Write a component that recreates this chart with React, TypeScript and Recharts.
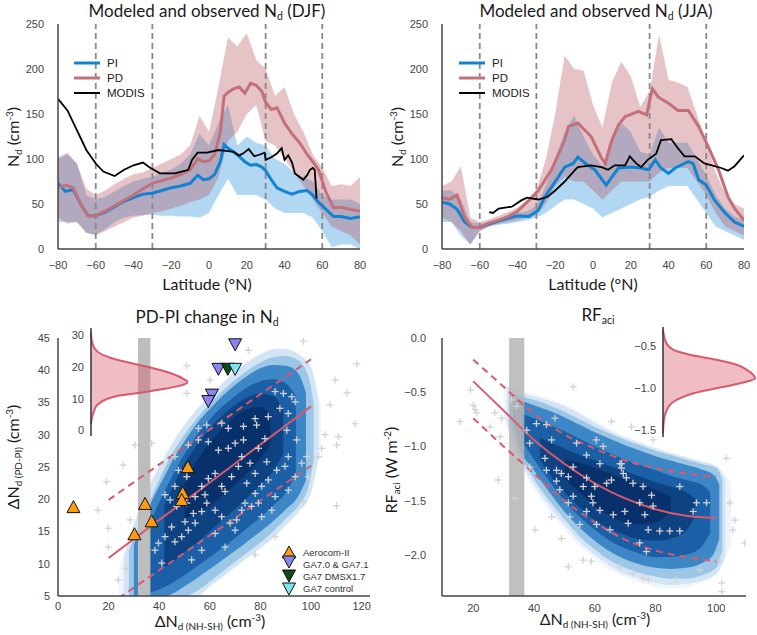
import React from "react";
import {
  ComposedChart,
  Line,
  Area,
  Scatter,
  XAxis,
  YAxis,
  ReferenceLine,
  ReferenceArea,
} from "recharts";

const TICK_FONT = "'Liberation Sans', Arial, sans-serif";
const LABEL_FONT = "Lato, 'Open Sans', sans-serif";
const AXIS = { stroke: "#444", strokeWidth: 1.5 };
const TICK = { fill: "#444", fontSize: 11, fontFamily: TICK_FONT };
const PI_COLOR = "#1283d3";
const PD_COLOR = "#c4707a";
const FIT_COLOR = "#d9596c";

// ---------- top panels: zonal mean Nd ----------
const LAT_TICKS = [-80, -60, -40, -20, 0, 20, 40, 60, 80];
const ND_TICKS = [0, 50, 100, 150, 200, 250];
const REGION_EDGES = [-60, -30, 30, 60];

const djfLat = [-80, -76, -72, -68, -64, -60, -55, -50, -45, -40, -35, -30, -25, -20, -15, -10, -6, -3, 0, 3, 6, 8, 10, 13, 16, 19, 22, 25, 28, 30, 33, 36, 40, 44, 48, 52, 55, 58, 62, 66, 70, 75, 80];
const djfPI = [73, 64, 66, 50, 37, 37, 41, 47, 53, 57, 61, 62, 65, 68, 70, 73, 82, 77, 78, 83, 97, 116, 112, 108, 103, 97, 93, 94, 91, 87, 77, 68, 64, 61, 64, 65, 60, 52, 44, 36, 36, 34, 36];
const djfPD = [68, 71, 68, 50, 37, 37, 42, 48, 54, 60, 67, 73, 76, 79, 83, 88, 100, 97, 98, 105, 130, 170, 174, 178, 180, 173, 184, 182, 175, 163, 155, 157, 140, 128, 118, 105, 97, 88, 63, 46, 46, 44, 42];
const djfModisLat = [-80, -75, -70, -65, -60, -56, -50, -45, -40, -35, -31, -26, -18, -11, -9, -6, -1, 5, 9, 13, 16, 18, 21, 24, 27, 29.5, 30, 33, 36, 38.5, 40, 42, 44, 45.5, 48, 50, 52, 53.5, 55, 56, 57];
const djfModis = [167, 154, 132, 110, 95, 86, 81, 88, 93, 96, 90, 84, 84, 88, 99, 107, 107, 110, 109, 108, 104, 106, 111, 103, 105, 107, 99, 102, 106, 112, 99, 104, 96, 84, 80, 77, 82, 88, 90, 88, 56];

const bandLat = [-80, -75, -70, -65, -60, -55, -50, -45, -40, -35, -30, -25, -20, -15, -10, -5, 0, 5, 10, 15, 20, 25, 30, 35, 40, 45, 50, 55, 60, 65, 70, 75, 80];
const djfPDHi = [102, 107, 95, 67, 60, 65, 72, 78, 83, 85, 90, 95, 100, 105, 115, 148, 130, 180, 235, 225, 240, 210, 200, 170, 180, 150, 130, 105, 90, 70, 72, 70, 80];
const djfPDLo = [35, 28, 30, 18, 15, 20, 25, 30, 35, 37, 40, 42, 45, 48, 52, 55, 60, 80, 120, 130, 150, 160, 120, 115, 100, 85, 70, 55, 40, 25, 20, 15, 5];
const djfPIHi = [100, 105, 95, 60, 55, 58, 64, 70, 75, 78, 80, 85, 88, 95, 105, 128, 115, 140, 160, 115, 125, 118, 115, 100, 95, 85, 80, 75, 60, 55, 55, 55, 50];
const djfPILo = [30, 30, 30, 18, 16, 22, 30, 35, 37, 38, 38, 37, 37, 36, 36, 35, 40, 60, 78, 60, 60, 60, 55, 45, 40, 40, 40, 35, 20, 2, 5, 5, 0];

const jjaPILat = [-80, -76, -72, -68, -64, -60, -55, -50, -45, -40, -34, -29, -25.5, -20, -15, -10.5, -8, -4, 1, 4.5, 7, 10, 13.5, 20, 25.5, 29.5, 33, 36, 40, 43.5, 50.5, 53, 56, 60, 64.5, 70, 75, 80];
const jjaPI = [52, 50, 44, 30, 24, 24, 28, 31, 34, 37, 36, 43, 58, 75, 91, 95, 102, 95, 88, 78, 71, 80, 90, 91, 90, 88, 99, 90, 84, 90, 97, 95, 77, 71, 54, 40, 30, 25];
const jjaPDLat = [-80, -76, -72, -68, -64, -60, -55, -50, -45, -40, -34, -29, -22, -15, -13, -8, -1, 4.5, 6.5, 10, 13.5, 17, 24, 28.5, 30, 31.5, 34.5, 36, 40, 45, 50.5, 56, 61, 66.5, 71.5, 75, 80];
const jjaPD = [57, 55, 60, 35, 24, 24, 29, 32, 36, 42, 54, 65, 88, 121, 136, 140, 125, 101, 95, 121, 138, 147, 153, 149, 165, 178, 169, 167, 162, 154, 154, 136, 114, 88, 58, 45, 32];
const jjaModisLat = [-55, -53, -50, -43, -38, -35, -29, -24, -20, -15, -9.5, -8, -1, 4.5, 8, 11.5, 17, 19.5, 23, 25.5, 29, 33.5, 36, 41.5, 45, 48.5, 54, 59, 63, 68, 71.5, 75, 80];
const jjaModis = [41, 40, 45, 47, 54, 57, 55, 58, 65, 75, 88, 91, 93, 91, 88, 93, 93, 103, 95, 91, 99, 106, 121, 122, 112, 103, 103, 95, 93, 90, 87, 92, 104];
const jjaPDHi = [70, 75, 92, 35, 30, 33, 37, 41, 46, 53, 65, 100, 150, 215, 200, 198, 160, 135, 185, 208, 192, 158, 175, 238, 188, 185, 180, 150, 118, 85, 62, 50, 45];
const jjaPDLo = [35, 30, 20, 5, 20, 25, 28, 30, 32, 35, 38, 50, 70, 80, 75, 75, 65, 55, 65, 75, 75, 75, 75, 85, 90, 90, 90, 75, 60, 40, 25, 20, 15];
const jjaPIHi = [65, 65, 55, 30, 28, 30, 33, 36, 40, 42, 48, 70, 100, 130, 148, 125, 105, 92, 125, 140, 130, 108, 105, 135, 118, 118, 118, 100, 82, 60, 45, 36, 32];
const jjaPILo = [30, 30, 15, 5, 20, 25, 27, 28, 30, 32, 35, 40, 48, 55, 55, 50, 45, 35, 40, 45, 50, 55, 58, 65, 70, 70, 70, 55, 40, 25, 20, 15, 10];

// ---------- bottom-left: PD-PI change in Nd ----------
const DX_TICKS = [0, 20, 40, 60, 80, 100, 120];
const DY_TICKS = [5, 10, 15, 20, 25, 30, 35, 40, 45];
const fitX = [20, 40, 60, 80, 100];
const dFit = [10.9, 16.8, 22.6, 28.5, 34.4];
const dUpper = [19.9, 25.4, 30.8, 36.3, 41.7];
const dLower = [3.6, 9.0, 14.4, 19.8, 25.2];

// density of the emulator sample, read as column extents for nested shading levels
const dCloud = [
  { fill: "#eef5fb", x: [24, 28, 33, 38, 43, 48, 53, 58, 63, 68, 73, 78, 83, 88, 93, 98, 102, 104], lo: [5, 5, 5, 5, 5, 5, 5, 5.8, 7.3, 8.8, 10.3, 11.8, 13.3, 15.2, 17.2, 20, 24, 28], hi: [9, 14, 19.5, 24, 27.5, 30.5, 33, 35.3, 37.3, 39.2, 40.8, 42, 43, 43.5, 43, 41.5, 38, 34] },
  { fill: "#d3e4f4", x: [26, 30, 35, 40, 45, 50, 55, 60, 65, 70, 75, 80, 85, 90, 95, 100, 103], lo: [5, 5, 5, 5, 5, 5, 5, 6.5, 8, 9.5, 11, 12.5, 14, 16, 18, 21, 27], hi: [11, 16, 21, 25, 28.5, 31.5, 34, 36, 38, 39.8, 41.3, 42.5, 43.2, 43.3, 42.5, 40.5, 35] },
  { fill: "#9cc6e6", x: [28, 32, 36, 40, 45, 50, 55, 60, 65, 70, 75, 80, 85, 90, 95, 99, 101], lo: [5, 5, 5, 5, 5, 5, 5.8, 7.2, 8.8, 10.3, 11.8, 13.3, 15, 17, 19, 22, 26], hi: [12, 16, 19.5, 23, 27, 30, 32.6, 34.8, 36.8, 38.5, 40, 41.2, 42, 42.2, 41.5, 39, 35] },
  { fill: "#3d87c7", x: [30, 34, 38, 42, 46, 50, 55, 60, 65, 70, 75, 80, 85, 90, 95, 98], lo: [5, 5, 5, 5, 5.5, 6.5, 7.8, 9.2, 10.6, 12, 13.5, 15, 16.6, 18.4, 20.5, 23], hi: [13, 17, 20.5, 23.5, 26.5, 29, 31.8, 34, 36, 37.7, 39.2, 40.3, 40.8, 40.7, 39.5, 36.5] },
  { fill: "#1b60a7", x: [36, 40, 45, 50, 55, 60, 65, 70, 75, 80, 85, 90, 94], lo: [5.5, 6, 7, 8.2, 9.6, 11, 12.5, 14, 15.6, 17.2, 19, 21, 24], hi: [16, 19.5, 23.5, 27, 30, 32.4, 34.4, 36, 37.4, 38.3, 38.6, 38, 36] },
  { fill: "#0d4283", x: [42, 46, 50, 55, 60, 65, 70, 75, 80, 85, 89], lo: [9.5, 10.5, 11.8, 13.3, 15, 16.8, 18.5, 20.3, 22.2, 24.3, 27], hi: [19, 22.5, 25.5, 28.5, 31, 33, 34.6, 35.8, 36.4, 36, 34] },
  { fill: "#08306b", x: [50, 55, 60, 65, 70, 75, 80, 84], lo: [17, 17.8, 19, 20.6, 22.3, 24.2, 26.3, 28.5], hi: [22.5, 26, 28.8, 31, 32.8, 34, 34.3, 33] },
];

const dCrossX = [97, 118.1, 109.5, 114.2, 107.5, 117.4, 105.5, 110.8, 104.2, 110.1, 102.9, 98.9, 97, 110.1, 77.9, 50.9, 50.9, 60.1, 75.2, 30.4, 25.8, 19.2, 15.7, 19.9, 19.9, 27.1, 23.8, 28.5, 37,
  55.5, 58.8, 64.7, 67.3, 73.3, 77.9, 78.5, 83.1, 85.8, 89.1, 92.4, 87.7, 91, 93.7, 90.4, 94.3, 81.8, 79.2, 73.3, 70, 67.3, 63.4, 59.4, 55.5, 51.5, 46.2, 47.6, 50.9, 46.2, 42.3, 44.3, 46.9, 50.9, 54.2, 56.8, 59.4, 62.1, 64.7, 66, 68.6, 71.3, 72.6, 75.9, 77.9, 74.6, 77.9, 80.5, 83.1, 86.4, 89.7, 91, 82.5,
  79.2, 73.9, 70.6, 68, 64.7, 62.1, 58.8, 58.1, 56.8, 54.2, 51.5, 48.9, 46.2, 42.3, 39.7, 38.3, 41, 44.9, 50.2, 53.5, 62.1, 66, 56.8, 52.8, 70, 72.6, 76.5, 80.5, 84.5, 85.8, 91, 93.7, 96.3, 98.3, 85.8];
const dCrossY = [44.5, 41, 38.5, 36.5, 34.6, 31.7, 30, 29.7, 27.9, 28.4, 26.6, 23.5, 19.6, 19, 11.4, 40.7, 36.4, 38.5, 43.1, 28.4, 25.3, 22.7, 18.3, 15.5, 12.6, 9.3, 7.5, 16.8, 28.7,
  31, 31.5, 31.8, 31, 31.3, 32.5, 31.5, 32.8, 36.7, 36.4, 35.9, 34.1, 33.3, 35.1, 30.7, 29.2, 29.4, 27.9, 29.2, 28.7, 27.9, 27.6, 28.9, 29.2, 28.4, 26.6, 24.5, 23.5, 22, 20.7, 19.9, 18.9, 19.4, 20.4, 22, 23.2, 24, 22, 21.2, 23.5, 25.1, 26.6, 25.6, 24, 22.5, 20.9, 22, 23, 24.5, 25.1, 26.6, 25.8,
  19.4, 19.4, 16.8, 16.3, 17.3, 18.3, 19.4, 20.7, 18.1, 16.3, 15.2, 14.2, 13.4, 14.2, 13.2, 12.1, 10.1, 15.7, 16.5, 17.8, 14.7, 12.6, 12.1, 10.6, 15.2, 18.3, 18.9, 17.3, 18.3, 20.4, 21.4, 23.5, 25.6, 26.6, 14.2];

const aerocomX = [6.1, 34.4, 37, 30.2, 51.3, 49.3, 48.9];
const aerocomY = [18.7, 19.2, 16.5, 14.5, 24.9, 20.9, 19.8];
const ga7X = [70, 63.4, 60.8, 59.4];
const ga7Y = [44.1, 40.3, 36.3, 35.3];
const dmsX = [67.1];
const dmsY = [40.3];
const ctrlX = [70];
const ctrlY = [40.3];

const dKdeV = [2, 4, 6, 8, 10, 11, 12, 13, 14, 15.3, 16, 18, 19.5, 21, 23, 25, 28, 31];
const dKdeD = [0, 0.01, 0.03, 0.063, 0.17, 0.29, 0.52, 0.73, 0.9, 1, 0.97, 0.83, 0.66, 0.45, 0.2, 0.063, 0.01, 0];

// ---------- bottom-right: RFaci ----------
const RX_TICKS = [20, 40, 60, 80, 100];
const RY_TICKS = [0, -0.5, -1, -1.5, -2];
const rfX = [20, 30, 40, 50, 60, 70, 80, 90, 100];
const rFit = [-0.4, -0.67, -0.94, -1.16, -1.34, -1.48, -1.58, -1.64, -1.66];
const rUpper = [-0.2, -0.45, -0.7, -0.89, -1.02, -1.13, -1.2, -1.25, -1.28];
const rLower = [-0.74, -1.0, -1.25, -1.5, -1.7, -1.86, -1.96, -2.02, -2.06];

const rCloud = [
  { fill: "#eef5fb", x: [30, 33, 38, 43, 48, 53, 58, 63, 68, 73, 78, 83, 88, 93, 98, 102, 105], lo: [-0.72, -0.98, -1.3, -1.52, -1.7, -1.86, -1.99, -2.1, -2.18, -2.24, -2.28, -2.31, -2.31, -2.28, -2.22, -2.1, -1.9], hi: [-0.42, -0.46, -0.5, -0.54, -0.59, -0.65, -0.73, -0.81, -0.88, -0.94, -0.99, -1.04, -1.08, -1.12, -1.16, -1.22, -1.35] },
  { fill: "#d3e4f4", x: [31, 35, 40, 45, 50, 55, 60, 65, 70, 75, 80, 85, 90, 95, 100, 103], lo: [-0.8, -1.1, -1.35, -1.55, -1.72, -1.88, -2.0, -2.1, -2.18, -2.22, -2.26, -2.28, -2.27, -2.24, -2.18, -2.0], hi: [-0.45, -0.5, -0.54, -0.58, -0.63, -0.7, -0.78, -0.86, -0.92, -0.97, -1.02, -1.06, -1.1, -1.14, -1.18, -1.3] },
  { fill: "#9cc6e6", x: [32, 35, 40, 45, 50, 55, 60, 65, 70, 75, 80, 85, 90, 95, 100, 102], lo: [-0.78, -1.05, -1.3, -1.5, -1.67, -1.83, -1.95, -2.05, -2.12, -2.17, -2.2, -2.22, -2.22, -2.19, -2.12, -1.95], hi: [-0.5, -0.53, -0.57, -0.62, -0.68, -0.75, -0.82, -0.88, -0.94, -0.99, -1.04, -1.08, -1.12, -1.16, -1.2, -1.3] },
  { fill: "#3d87c7", x: [33, 35, 40, 45, 50, 55, 60, 65, 70, 75, 80, 85, 90, 95, 99, 101], lo: [-0.75, -0.98, -1.22, -1.42, -1.6, -1.75, -1.87, -1.97, -2.04, -2.09, -2.12, -2.13, -2.12, -2.08, -2.0, -1.85], hi: [-0.55, -0.57, -0.62, -0.67, -0.73, -0.8, -0.87, -0.93, -0.99, -1.04, -1.09, -1.13, -1.17, -1.21, -1.26, -1.35] },
  { fill: "#1b60a7", x: [36, 40, 45, 50, 55, 60, 65, 70, 75, 80, 85, 90, 95, 98], lo: [-0.95, -1.12, -1.32, -1.5, -1.65, -1.77, -1.87, -1.94, -1.99, -2.02, -2.02, -2.0, -1.93, -1.8], hi: [-0.7, -0.74, -0.8, -0.86, -0.93, -1.0, -1.06, -1.12, -1.17, -1.22, -1.27, -1.31, -1.35, -1.42] },
  { fill: "#0d4283", x: [42, 45, 50, 55, 60, 65, 70, 75, 80, 85, 90, 93], lo: [-1.12, -1.25, -1.42, -1.56, -1.68, -1.76, -1.82, -1.86, -1.87, -1.85, -1.78, -1.65], hi: [-0.92, -0.96, -1.02, -1.08, -1.13, -1.18, -1.23, -1.28, -1.33, -1.37, -1.42, -1.48] },
  { fill: "#08306b", x: [50, 55, 60, 65, 70, 75, 80, 85], lo: [-1.3, -1.42, -1.55, -1.64, -1.7, -1.72, -1.7, -1.6], hi: [-1.12, -1.15, -1.2, -1.25, -1.3, -1.35, -1.4, -1.47] },
];

const rCrossX = [15.6, 19.1, 20, 20.6, 21.1, 25.5, 27.1, 28.2, 28.8, 29.4, 52.9, 65.5, 72.1, 79.2, 103.3, 104.4, 106.1, 105.5, 109.4, 101.2, 101.8, 101.8, 40.3, 49, 51.3, 56.2, 58.9, 68.3, 72.6, 75.9, 77.6, 86.9, 94.6, 33.7,
  32.6, 34.3, 37.6, 38.6, 38.6, 40.8, 44.1, 45.8, 46.9, 43.6, 44.1, 47.4, 49, 47.4, 51.3, 52.9, 54, 57.3, 60.5, 61.7, 62.8, 68.3, 69.4, 65.5, 60, 58.9, 59.4, 56.2, 52.9, 51.3, 48.5, 45.8, 51.8, 55.1, 57.3, 61.7, 66.1, 69.9, 71, 74.8, 78.7, 79.2, 75.9, 72.6, 88, 92.4, 93.5, 96.8, 84.7, 81.4, 77.6, 74.8, 65, 60.6, 77, 70.4, 68.8, 63.9, 57.3, 76.5, 88, 68.8];
const rCrossY = [-0.77, -0.48, -0.62, -0.66, -0.69, -0.82, -0.69, -1.31, -0.91, -0.74, -0.45, -0.77, -0.82, -0.94, -1.11, -1.52, -1.68, -1.77, -1.89, -2.05, -2.26, -2.34, -1.77, -1.85, -2.11, -2.05, -2.06, -2.11, -2.17, -2.22, -2.23, -2.22, -2.14, -1.48,
  -0.57, -0.63, -0.85, -0.97, -1.19, -0.79, -0.8, -0.94, -0.74, -1.11, -1.22, -1.22, -1.25, -1.32, -1.28, -1.19, -0.97, -1.08, -0.94, -1.16, -1.0, -1.16, -1.25, -1.31, -1.37, -1.46, -1.52, -1.37, -1.46, -1.52, -1.4, -1.65, -1.65, -1.72, -1.6, -1.59, -1.63, -1.6, -1.71, -1.52, -1.45, -1.55, -1.37, -1.34, -1.37, -1.6, -1.52, -1.52, -1.78, -1.78, -1.77, -1.89, -1.77, -1.72, -1.97, -1.29, -1.2, -1.34, -1.29, -1.63, -1.78, -1.16];

const rKdeV = [-0.3, -0.34, -0.46, -0.54, -0.6, -0.66, -0.72, -0.78, -0.84, -0.88, -0.94, -1.0, -1.06, -1.12, -1.18, -1.26, -1.38, -1.54];
const rKdeD = [0, 0.005, 0.036, 0.11, 0.29, 0.58, 0.8, 0.91, 0.98, 1.0, 0.84, 0.58, 0.33, 0.18, 0.09, 0.04, 0.01, 0];

// ---------- helpers ----------
const pts = (xs: number[], ys: number[]) => xs.map((x, i) => ({ x, y: ys[i] }));
const band = (xs: number[], lo: number[], hi: number[]) => xs.map((x, i) => ({ x, lo: lo[i], hi: hi[i] }));
const kde = (vs: number[], ds: number[]) => vs.map((v, i) => ({ v, d: ds[i] }));
const minus = (v: number) => String(v).replace("-", "\u2212");
const minus1 = (v: number) => v.toFixed(1).replace("-", "\u2212");
const range = (d: any) => [d.lo, d.hi];

const Plus = (p: any) => {
  const { cx, cy } = p;
  if (cx == null || cy == null) return <g />;
  return (
    <g stroke="#d2d2d2" strokeWidth={1.3}>
      <line x1={cx - 3.5} y1={cy} x2={cx + 3.5} y2={cy} />
      <line x1={cx} y1={cy - 3.5} x2={cx} y2={cy + 3.5} />
    </g>
  );
};

const triPoints = (cx: number, cy: number, up: boolean) =>
  up
    ? `${cx},${cy - 7} ${cx - 6.5},${cy + 5} ${cx + 6.5},${cy + 5}`
    : `${cx},${cy + 7} ${cx - 6.5},${cy - 5} ${cx + 6.5},${cy - 5}`;

const triangle = (fill: string, up: boolean) => (p: any) => {
  const { cx, cy } = p;
  if (cx == null || cy == null) return <g />;
  return <polygon points={triPoints(cx, cy, up)} fill={fill} stroke="#111" strokeWidth={1} />;
};

const Label = ({ x, y, size = 16, rotate = false, children }: any) => (
  <div
    style={{
      position: "absolute",
      left: x,
      top: y,
      transform: `translate(-50%, -50%)${rotate ? " rotate(-90deg)" : ""}`,
      fontFamily: LABEL_FONT,
      fontSize: size,
      color: "#1a1a1a",
      whiteSpace: "nowrap",
      lineHeight: 1,
    }}
  >
    {children}
  </div>
);

const Sub = ({ children }: any) => <sub style={{ fontSize: "0.62em", verticalAlign: "-0.3em" }}>{children}</sub>;
const Sup = ({ children }: any) => <sup style={{ fontSize: "0.62em", verticalAlign: "0.55em" }}>{children}</sup>;

const TopLegend = ({ x, y }: any) => (
  <div style={{ position: "absolute", left: x, top: y, fontFamily: TICK_FONT, fontSize: 11.5, color: "#222" }}>
    {[
      ["PI", PI_COLOR, 3],
      ["PD", PD_COLOR, 3],
      ["MODIS", "#000", 2],
    ].map(([name, color, w]: any) => (
      <div key={name} style={{ display: "flex", alignItems: "center", height: 15 }}>
        <svg width={26} height={8} style={{ marginRight: 7 }}>
          <line x1={0} y1={4} x2={26} y2={4} stroke={color} strokeWidth={w} />
        </svg>
        {name}
      </div>
    ))}
  </div>
);

function ZonalPanel({ left, pi, pd, modis, piBand, pdBand }: any) {
  return (
    <div style={{ position: "absolute", left, top: 0 }}>
      <ComposedChart width={372} height={290} margin={{ top: 24, right: 12, bottom: 11, left: 0 }}>
        <XAxis
          type="number"
          dataKey="x"
          domain={[-80, 80]}
          ticks={LAT_TICKS}
          tickFormatter={minus}
          interval={0}
          allowDataOverflow
          height={30}
          axisLine={AXIS}
          tickLine={false}
          tickSize={0}
          tickMargin={12}
          tick={TICK}
        />
        <YAxis
          type="number"
          dataKey="y"
          domain={[0, 250]}
          ticks={ND_TICKS}
          interval={0}
          allowDataOverflow
          width={58}
          axisLine={AXIS}
          tickLine={false}
          tickSize={0}
          tickMargin={14}
          tick={TICK}
        />
        <Area data={piBand} dataKey={range} type="linear" stroke="none" fill="#3b9be0" fillOpacity={0.4} isAnimationActive={false} activeDot={false} />
        <Area data={pdBand} dataKey={range} type="linear" stroke="none" fill="#b5535e" fillOpacity={0.35} isAnimationActive={false} activeDot={false} />
        {REGION_EDGES.map((e) => (
          <ReferenceLine key={e} x={e} stroke="#888" strokeWidth={1.8} strokeDasharray="6 4" />
        ))}
        <Line data={pi} dataKey="y" type="linear" stroke={PI_COLOR} strokeWidth={3} dot={false} isAnimationActive={false} />
        <Line data={pd} dataKey="y" type="linear" stroke={PD_COLOR} strokeWidth={3} dot={false} isAnimationActive={false} />
        <Line data={modis} dataKey="y" type="linear" stroke="#000" strokeWidth={1.8} dot={false} isAnimationActive={false} />
      </ComposedChart>
    </div>
  );
}

function Inset({ left, top, width, height, data, domain, ticks, fmt, yWidth, peak }: any) {
  return (
    <div style={{ position: "absolute", left, top }}>
      <ComposedChart layout="vertical" data={data} width={width} height={height} margin={{ top: 0, right: 0, bottom: 0, left: 0 }}>
        <XAxis type="number" dataKey="d" domain={[0, peak]} hide />
        <YAxis
          type="number"
          dataKey="v"
          domain={domain}
          ticks={ticks}
          tickFormatter={fmt}
          interval={0}
          allowDataOverflow
          reversed
          width={yWidth}
          axisLine={{ stroke: "#333", strokeWidth: 1.5 }}
          tickLine={false}
          tickSize={0}
          tickMargin={7}
          tick={TICK}
        />
        <Area dataKey="d" type="monotone" stroke={FIT_COLOR} strokeWidth={2} fill="#d9596c" fillOpacity={0.4} isAnimationActive={false} dot={false} activeDot={false} />
      </ComposedChart>
    </div>
  );
}

export default function App() {
  const djfPIBand = band(bandLat, djfPILo, djfPIHi);
  const djfPDBand = band(bandLat, djfPDLo, djfPDHi);
  const jjaPIBand = band(bandLat, jjaPILo, jjaPIHi);
  const jjaPDBand = band(bandLat, jjaPDLo, jjaPDHi);

  return (
    <div style={{ position: "absolute", left: 0, top: 0, width: 757, height: 635, background: "#fff", overflow: "hidden" }}>
      <ZonalPanel left={0} pi={pts(djfLat, djfPI)} pd={pts(djfLat, djfPD)} modis={pts(djfModisLat, djfModis)} piBand={djfPIBand} pdBand={djfPDBand} />
      <ZonalPanel left={384} pi={pts(jjaPILat, jjaPI)} pd={pts(jjaPDLat, jjaPD)} modis={pts(jjaModisLat, jjaModis)} piBand={jjaPIBand} pdBand={jjaPDBand} />
      <TopLegend x={74} y={55} />
      <TopLegend x={459} y={55} />

      {/* bottom-left */}
      <div style={{ position: "absolute", left: 0, top: 314 }}>
        <ComposedChart width={380} height={320} margin={{ top: 24, right: 10, bottom: 8, left: 0 }}>
          <XAxis type="number" dataKey="x" domain={[0, 123.3]} ticks={DX_TICKS} interval={0} allowDataOverflow height={30} axisLine={AXIS} tickLine={false} tickSize={0} tickMargin={6} tick={TICK} />
          <YAxis type="number" dataKey="y" domain={[5, 45]} ticks={DY_TICKS} interval={0} allowDataOverflow width={58} axisLine={AXIS} tickLine={false} tickSize={0} tickMargin={8} tick={TICK} />
          {dCloud.map((c, i) => (
            <Area key={i} data={band(c.x, c.lo, c.hi)} dataKey={range} type="monotone" stroke="none" fill={c.fill} fillOpacity={1} isAnimationActive={false} activeDot={false} />
          ))}
          <ReferenceArea x1={31.6} x2={36.5} fill="#bdbdbd" fillOpacity={1} stroke="none" ifOverflow="hidden" />
          <Scatter data={pts(dCrossX, dCrossY)} shape={Plus} isAnimationActive={false} />
          <Line data={pts(fitX, dFit)} dataKey="y" type="linear" stroke={FIT_COLOR} strokeWidth={2} dot={false} isAnimationActive={false} />
          <Line data={pts(fitX, dUpper)} dataKey="y" type="linear" stroke={FIT_COLOR} strokeWidth={2} strokeDasharray="7 5" dot={false} isAnimationActive={false} />
          <Line data={pts(fitX, dLower)} dataKey="y" type="linear" stroke={FIT_COLOR} strokeWidth={2} strokeDasharray="7 5" dot={false} isAnimationActive={false} />
          <Scatter data={pts(aerocomX, aerocomY)} shape={triangle("#ff9a0d", true)} isAnimationActive={false} />
          <Scatter data={pts(ga7X, ga7Y)} shape={triangle("#8a84ee", false)} isAnimationActive={false} />
          <Scatter data={pts(dmsX, dmsY)} shape={triangle("#0d4a1c", false)} isAnimationActive={false} />
          <Scatter data={pts(ctrlX, ctrlY)} shape={triangle("#7ae6f2", false)} isAnimationActive={false} />
        </ComposedChart>
      </div>
      <Inset left={60} top={328} width={128} height={108} data={kde(dKdeV, dKdeD)} domain={[-1.8, 32.4]} ticks={[0, 10, 20, 30]} fmt={minus} yWidth={31} peak={1.0} />
      <svg style={{ position: "absolute", left: 278, top: 540 }} width={100} height={60}>
        <polygon points={triPoints(11, 13, true)} fill="#ff9a0d" stroke="#111" strokeWidth={1} />
        <polygon points={triPoints(11, 21, false)} fill="#8a84ee" stroke="#111" strokeWidth={1} />
        <polygon points={triPoints(11, 35, false)} fill="#0d4a1c" stroke="#111" strokeWidth={1} />
        <polygon points={triPoints(11, 48, false)} fill="#7ae6f2" stroke="#111" strokeWidth={1} />
        {["Aerocom-II", "GA7.0 & GA7.1", "GA7 DMSX1.7", "GA7 control"].map((t, i) => (
          <text key={t} x={25} y={16 + i * 12} fontSize={9.5} fontFamily={TICK_FONT} fill="#333">
            {t}
          </text>
        ))}
      </svg>

      {/* bottom-right */}
      <div style={{ position: "absolute", left: 384, top: 314 }}>
        <ComposedChart width={372} height={320} margin={{ top: 24, right: 10, bottom: 8, left: 0 }}>
          <XAxis type="number" dataKey="x" domain={[9.7, 109.8]} ticks={RX_TICKS} interval={0} allowDataOverflow height={30} axisLine={AXIS} tickLine={false} tickSize={0} tickMargin={8} tick={TICK} />
          <YAxis type="number" dataKey="y" domain={[-2.38, 0]} ticks={RY_TICKS} interval={0} tickFormatter={minus1} allowDataOverflow width={58} axisLine={AXIS} tickLine={false} tickSize={0} tickMargin={16} tick={TICK} />
          {rCloud.map((c, i) => (
            <Area key={i} data={band(c.x, c.lo, c.hi)} dataKey={range} type="monotone" stroke="none" fill={c.fill} fillOpacity={1} isAnimationActive={false} activeDot={false} />
          ))}
          <ReferenceArea x1={31.8} x2={36.8} fill="#b5b5b5" fillOpacity={0.85} stroke="none" ifOverflow="hidden" />
          <Scatter data={pts(rCrossX, rCrossY)} shape={Plus} isAnimationActive={false} />
          <Line data={pts(rfX, rFit)} dataKey="y" type="monotone" stroke={FIT_COLOR} strokeWidth={2} dot={false} isAnimationActive={false} />
          <Line data={pts(rfX, rUpper)} dataKey="y" type="monotone" stroke={FIT_COLOR} strokeWidth={2} strokeDasharray="7 5" dot={false} isAnimationActive={false} />
          <Line data={pts(rfX, rLower)} dataKey="y" type="monotone" stroke={FIT_COLOR} strokeWidth={2} strokeDasharray="7 5" dot={false} isAnimationActive={false} />
        </ComposedChart>
      </div>
      <Inset left={625} top={327} width={132} height={110} data={kde(rKdeV, rKdeD)} domain={[-1.58, -0.27]} ticks={[-0.5, -1, -1.5]} fmt={minus1} yWidth={38} peak={1.02} />

      {/* titles and axis labels */}
      <Label x={207} y={12} size={17}>Modeled and observed N<Sub>d</Sub> (DJF)</Label>
      <Label x={596} y={12} size={17}>Modeled and observed N<Sub>d</Sub> (JJA)</Label>
      <Label x={207} y={284}>Latitude (°N)</Label>
      <Label x={593} y={284}>Latitude (°N)</Label>
      <Label x={14} y={137} rotate>N<Sub>d</Sub> (cm<Sup>-3</Sup>)</Label>
      <Label x={398} y={137} rotate>N<Sub>d</Sub> (cm<Sup>-3</Sup>)</Label>
      <Label x={207} y={318} size={17}>PD-PI change in N<Sub>d</Sub></Label>
      <Label x={598} y={316} size={17}>RF<Sub>aci</Sub></Label>
      <Label x={210} y={622}>ΔN<Sub>d (NH-SH)</Sub> (cm<Sup>-3</Sup>)</Label>
      <Label x={595} y={620}>ΔN<Sub>d (NH-SH)</Sub> (cm<Sup>-3</Sup>)</Label>
      <Label x={14} y={457} rotate>ΔN<Sub>d (PD-PI)</Sub> (cm<Sup>-3</Sup>)</Label>
      <Label x={392} y={470} rotate>RF<Sub>aci</Sub> (W m<Sup>-2</Sup>)</Label>
    </div>
  );
}
